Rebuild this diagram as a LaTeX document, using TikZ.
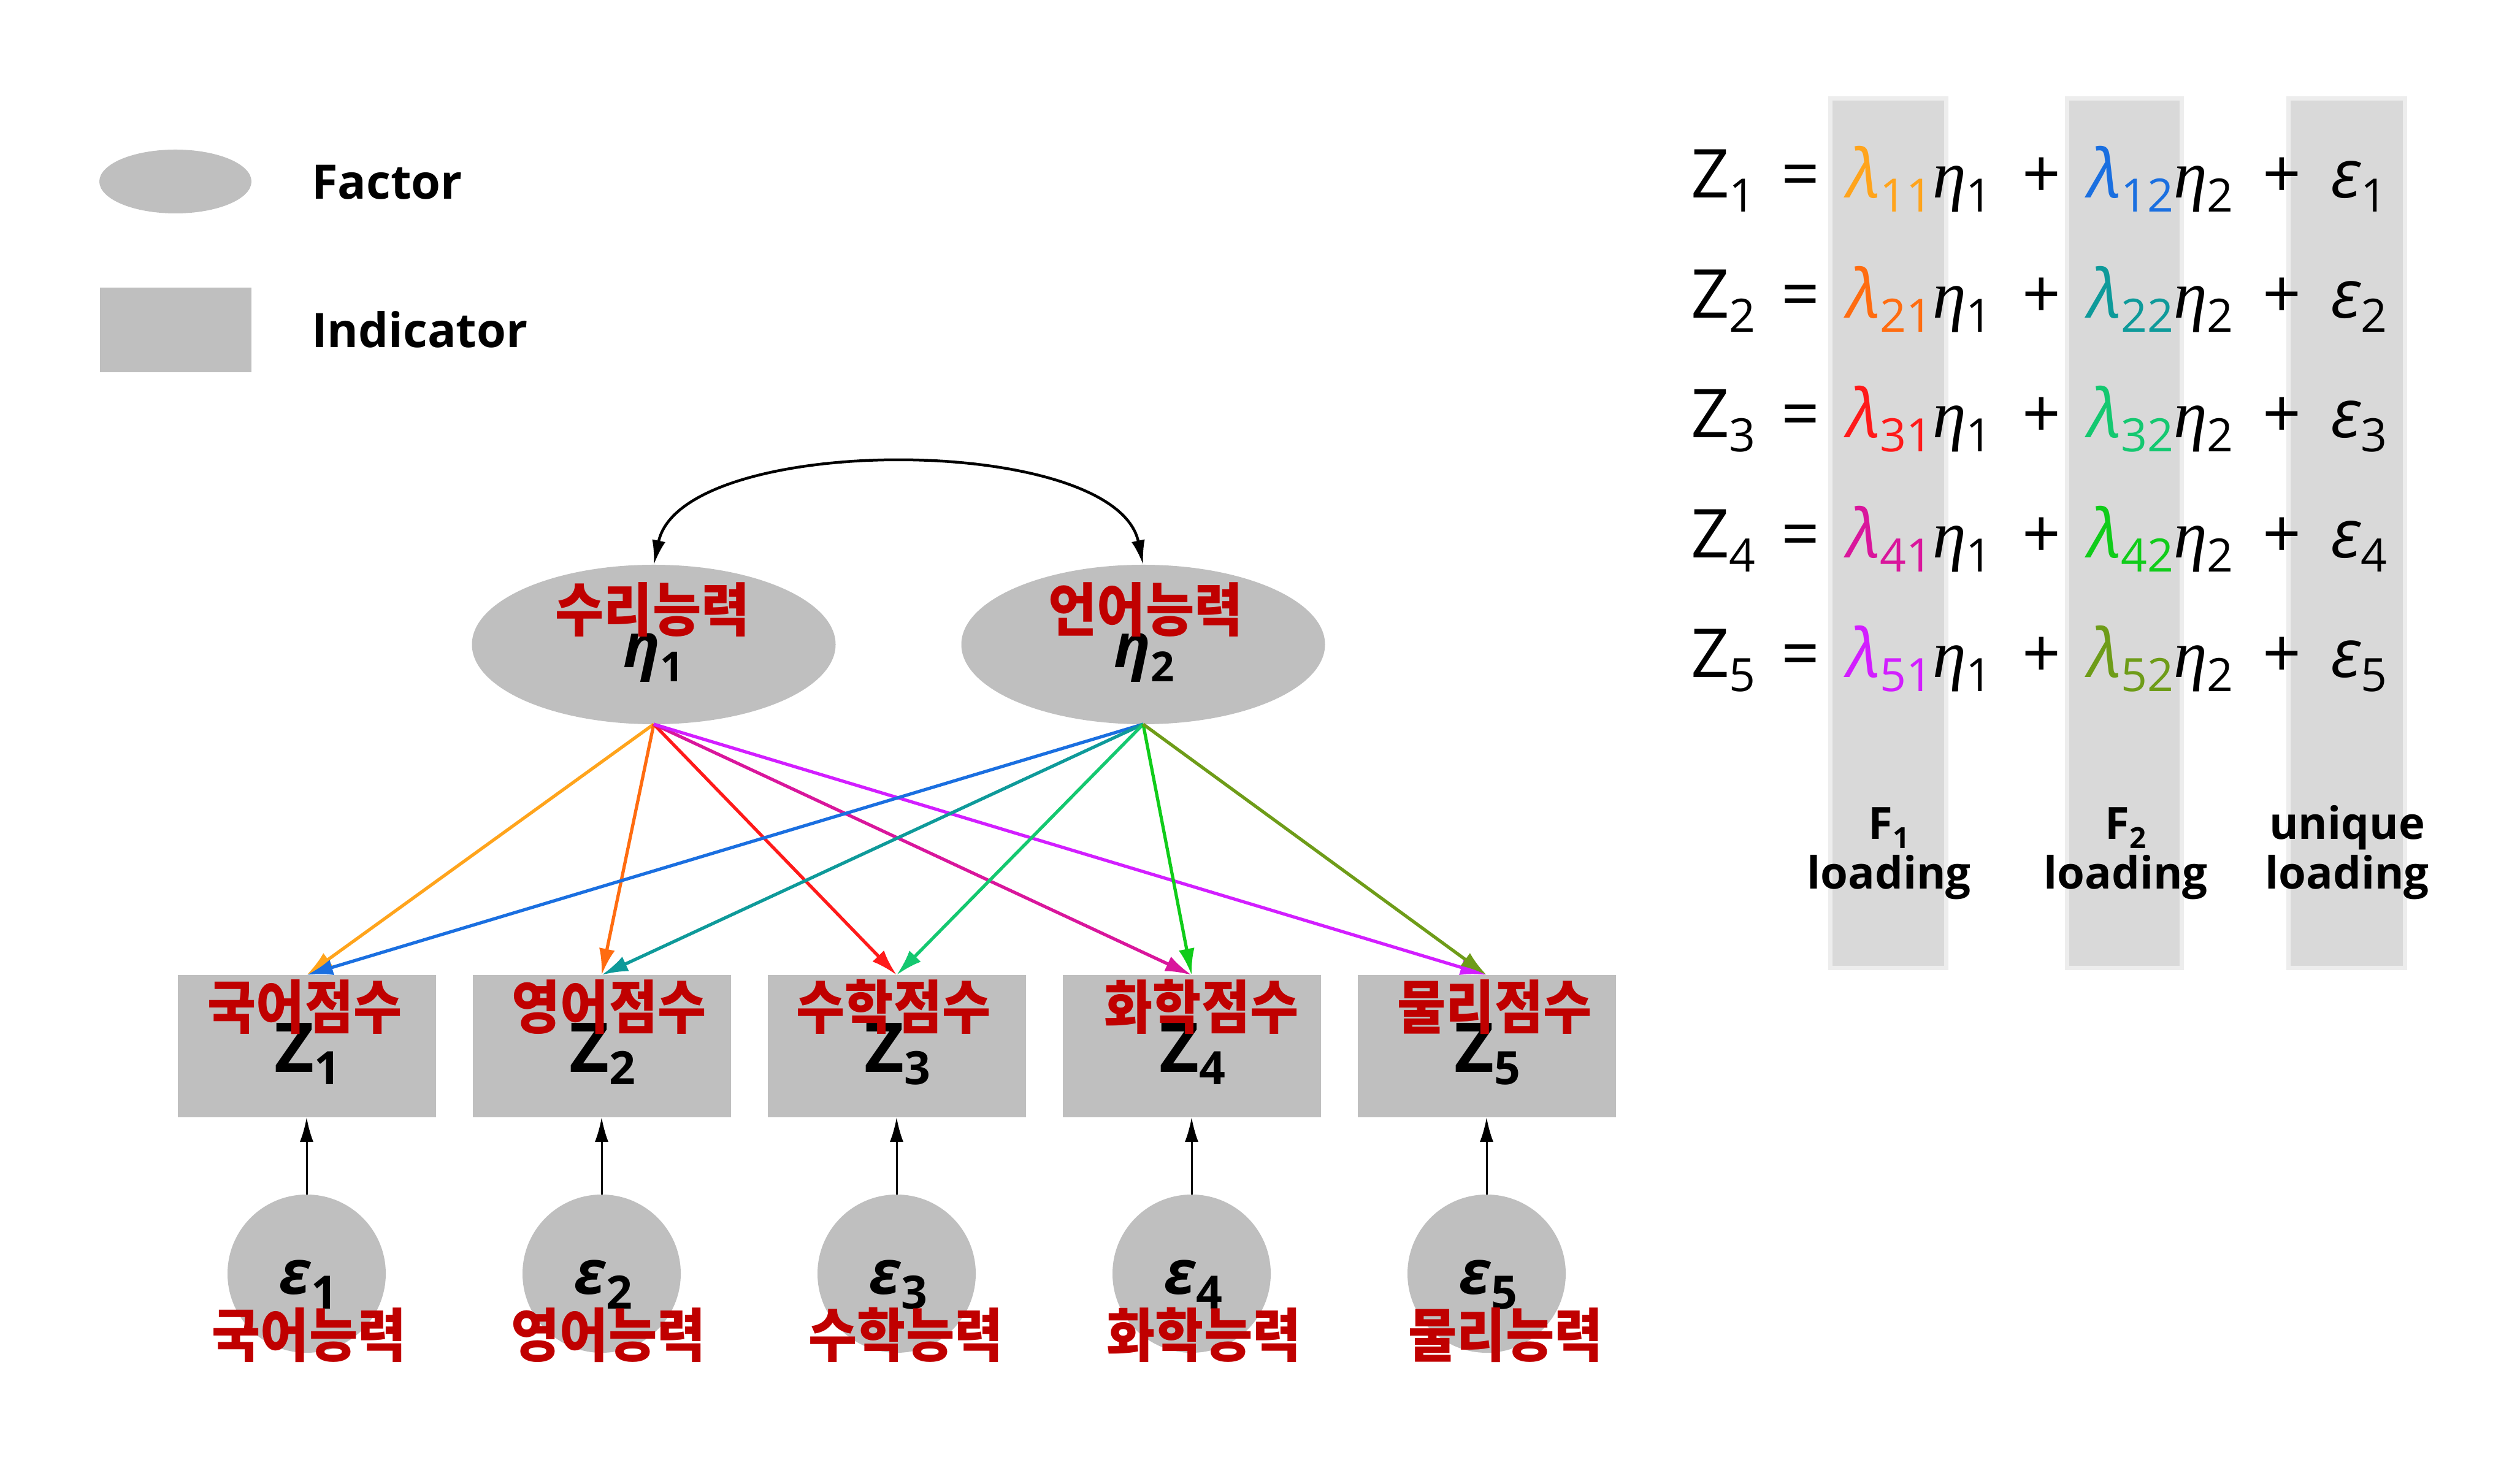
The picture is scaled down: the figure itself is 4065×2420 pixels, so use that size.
\documentclass[tikz,border=0pt]{standalone}
\usepackage{fontspec}
\setmainfont{Open Sans}
\newfontfamily\kr{Noto Sans CJK KR}
\newfontfamily\sr{Liberation Serif}
\usetikzlibrary{arrows.meta,shapes.geometric}
\definecolor{nodegray}{HTML}{BFBFBF}
\definecolor{bargray}{HTML}{D9D9D9}
\definecolor{krred}{HTML}{C00000}
\definecolor{c11}{HTML}{FFA41C}
\definecolor{c21}{HTML}{FF6C10}
\definecolor{c31}{HTML}{FF1A1A}
\definecolor{c41}{HTML}{D9169C}
\definecolor{c51}{HTML}{D21EFF}
\definecolor{c12}{HTML}{1A6FE0}
\definecolor{c22}{HTML}{0E9A9A}
\definecolor{c32}{HTML}{14C870}
\definecolor{c42}{HTML}{10CC1A}
\definecolor{c52}{HTML}{6E9C18}
\newcommand{\fsz}[1]{\fontsize{#1}{#1}\selectfont}
\newcommand{\eqsub}[1]{\raisebox{-4.6pt}{\fsz{15pt}\upshape #1}}
\newcommand{\krt}[1]{\scalebox{1}[1.1]{#1}}
\tikzset{
  eqtxt/.style={inner sep=0pt, outer sep=0pt, font=\fsz{22pt}},
  lbltxt/.style={inner sep=0pt, outer sep=0pt, font=\fsz{14.5pt}\bfseries, anchor=base},
  legtxt/.style={inner sep=0pt, outer sep=0pt, font=\fsz{15.5pt}\bfseries, anchor=base west},
  krlbl/.style={inner sep=0pt, outer sep=0pt, text=krred, font=\kr\fsz{17.2pt}\bfseries},
  factor/.style={ellipse, fill=nodegray, inner sep=0pt, outer sep=0pt, minimum width=118.6pt, minimum height=52pt},
  indic/.style={rectangle, fill=nodegray, inner sep=0pt, outer sep=0pt, minimum width=84.2pt, minimum height=46.4pt},
  errc/.style={circle, fill=nodegray, inner sep=0pt, outer sep=0pt, minimum size=51.6pt},
  load/.style={line width=1.05pt, -{Latex[length=8.6pt,width=5.2pt]}},
  errarrow/.style={line width=0.6pt, black, -{Latex[length=8pt,width=4.4pt]}},
  corr/.style={line width=0.9pt, black, {Latex[length=8pt,width=4.4pt]}-{Latex[length=8pt,width=4.4pt]}}
}
\begin{document}
\begin{tikzpicture}[x=0.2pt,y=-0.2pt]
\useasboundingbox (0,0) rectangle (4065,2420);
\fill[white] (0,0) rectangle (4065,2420);

% legend
\node[factor, minimum width=49.6pt, minimum height=20.8pt] (legf) at (286,296) {};
\node[indic, minimum width=49.4pt, minimum height=27.6pt] (legi) at (286,538) {};
\node[legtxt] (legft) at (508,325) {Factor};
\node[legtxt] (legit) at (508,567) {Indicator};

% loading bars
\foreach \xa/\xb [count=\k] in {2986/3172, 3372/3556, 3733/3920} {
  \fill[bargray, opacity=0.45] (\xa-5,157) rectangle (\xb+5,1582);
  \fill[bargray] (\xa+2,164) rectangle (\xb-2,1575);
}

% equations
\foreach \i/\y/\ca/\cb in {1/323/c11/c12, 2/519/c21/c22, 3/714/c31/c32, 4/910/c41/c42, 5/1105/c51/c52} {
  \node[eqtxt, anchor=base west] (zl\i) at (2757,\y) {Z\eqsub{\i}};
  \node[eqtxt, anchor=base] (eqs\i) at (2936,\y) {=};
  \node[eqtxt, anchor=base west] (la\i) at (3012,\y) {{\color{\ca}\itshape λ\eqsub{\i1}}{\sr\itshape η}\eqsub{1}};
  \node[eqtxt, anchor=base] (pa\i) at (3329,\y) {+};
  \node[eqtxt, anchor=base west] (lb\i) at (3405,\y) {{\color{\cb}\itshape λ\eqsub{\i2}}{\sr\itshape η}\eqsub{2}};
  \node[eqtxt, anchor=base] (pb\i) at (3721,\y) {+};
  \node[eqtxt, anchor=base west] (ep\i) at (3800,\y) {{\itshape ε}\eqsub{\i}};
}

% bar labels
\node[lbltxt] (fa1) at (3080,1369) {F\raisebox{-3pt}{\fsz{9.5pt}\bfseries 1}};
\node[lbltxt] (fa2) at (3080,1449) {loading};
\node[lbltxt] (fb1) at (3466,1369) {F\raisebox{-3pt}{\fsz{9.5pt}\bfseries 2}};
\node[lbltxt] (fb2) at (3466,1449) {loading};
\node[lbltxt] (fc1) at (3827,1369) {unique};
\node[lbltxt] (fc2) at (3827,1449) {loading};

% factors
\node[factor] (f1) at (1066,1051) {};
\node[factor] (f2) at (1864,1051) {};
\node[inner sep=0pt, anchor=base, font=\fsz{20pt}\bfseries] (f1t) at (1066,1089) {{\itshape η}\raisebox{-4.6pt}{\fsz{13.5pt}\bfseries 1}};
\node[inner sep=0pt, anchor=base, font=\fsz{20pt}\bfseries] (f2t) at (1866,1089) {{\itshape η}\raisebox{-4.6pt}{\fsz{13.5pt}\bfseries 2}};
\node[krlbl] (f1k) at (1064,994) {\krt{수리능력}};
\node[krlbl] (f2k) at (1868,994) {\krt{언어능력}};
\draw[corr] (f1.north) .. controls (1111,705) and (1819,705) .. (f2.north);

% indicators and errors
\foreach \i/\x/\kx/\ex/\ktop/\kbot in {1/500/497/504/국어점수/국어능력, 2/981/993/992/영어점수/영어능력, 3/1462/1457/1477/수학점수/수학능력, 4/1943/1959/1963/화학점수/화학능력, 5/2424/2437/2455/물리점수/물리능력} {
  \node[indic] (b\i) at (\x,1706) {};
  \node[inner sep=0pt, anchor=base, font=\fsz{22.4pt}\bfseries] (bz\i) at (\x+1,1748) {Z\raisebox{-4pt}{\fsz{15pt}\bfseries\i}};
  \node[krlbl] (bk\i) at (\kx,1642) {\krt{\ktop}};
  \node[errc] (e\i) at (\x,2077) {};
  \node[inner sep=0pt, anchor=base, font=\fsz{20pt}\bfseries] (ez\i) at (\x+3,2110) {{\itshape ε}\raisebox{-4.8pt}{\fsz{15pt}\bfseries\i}};
  \node[krlbl] (ek\i) at (\ex,2177) {\krt{\kbot}};
  \draw[errarrow] (e\i.north) -- (b\i.south);
}

% loadings
\draw[load, c11] (f1.south) -- (b1.north);
\draw[load, c21] (f1.south) -- (b2.north);
\draw[load, c31] (f1.south) -- (b3.north);
\draw[load, c41] (f1.south) -- (b4.north);
\draw[load, c51] (f1.south) -- (b5.north);
\draw[load, c12] (f2.south) -- (b1.north);
\draw[load, c22] (f2.south) -- (b2.north);
\draw[load, c32] (f2.south) -- (b3.north);
\draw[load, c42] (f2.south) -- (b4.north);
\draw[load, c52] (f2.south) -- (b5.north);
\end{tikzpicture}
\end{document}
